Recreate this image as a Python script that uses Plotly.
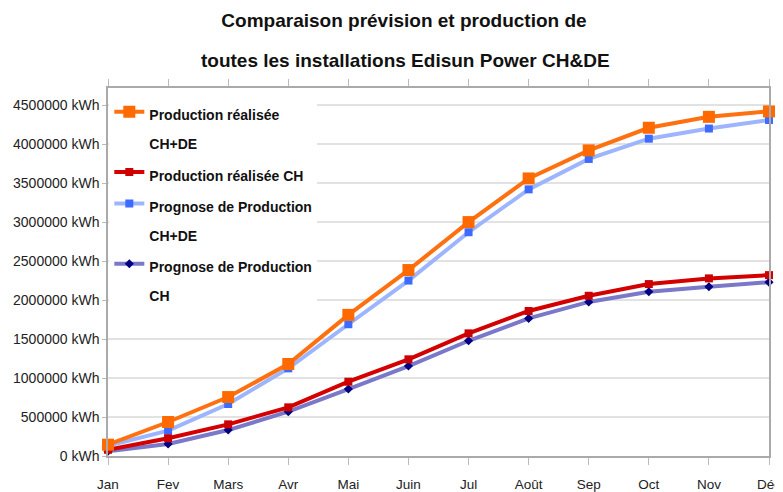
import plotly.graph_objects as go

months = ["Jan", "Fev", "Mars", "Avr", "Mai", "Juin", "Jul", "Août", "Sep", "Oct", "Nov", "Déc"]
real_chde = [145000, 436000, 756000, 1180000, 1810000, 2385000, 3000000, 3560000, 3920000, 4210000, 4350000, 4420000]
prog_chde = [130000, 325000, 667000, 1124000, 1690000, 2250000, 2870000, 3420000, 3810000, 4070000, 4200000, 4310000]
real_ch = [80000, 227000, 406000, 624000, 953000, 1240000, 1573000, 1860000, 2055000, 2205000, 2278000, 2320000]
prog_ch = [60000, 154000, 333000, 568000, 859000, 1154000, 1478000, 1765000, 1976000, 2106000, 2170000, 2230000]
y_ticks = [0, 500000, 1000000, 1500000, 2000000, 2500000, 3000000, 3500000, 4000000, 4500000]
y_tick_text = [f"{v} kWh" for v in y_ticks]

FONT = "Liberation Sans, Arial, sans-serif"


def lg(*lines):
    return "<br>".join(f'<span style="font-size:14px">{ln}</span>' for ln in lines)


fig = go.Figure()
fig.add_trace(go.Scatter(
    x=months, y=prog_chde, mode="lines+markers", name=lg("Prognose de Production", "CH+DE"),
    line=dict(color="#9db5ff", width=4), marker=dict(symbol="square", size=8, color="#3d6bff"),
    legendrank=3, cliponaxis=False))
fig.add_trace(go.Scatter(
    x=months, y=prog_ch, mode="lines+markers", name=lg("Prognose de Production", "CH"),
    line=dict(color="#7a78c8", width=4), marker=dict(symbol="diamond", size=7, color="#000080"),
    legendrank=4, cliponaxis=False))
fig.add_trace(go.Scatter(
    x=months, y=real_ch, mode="lines+markers", name=lg("Production réalisée CH"),
    line=dict(color="#d40000", width=4), marker=dict(symbol="square", size=8, color="#cc0000"),
    legendrank=2, cliponaxis=False))
fig.add_trace(go.Scatter(
    x=months, y=real_chde, mode="lines+markers", name=lg("Production réalisée", "CH+DE"),
    line=dict(color="#ff7010", width=4), marker=dict(symbol="square", size=12, color="#ff6a00"),
    legendrank=1, cliponaxis=False))

fig.update_layout(
    width=775, height=484,
    margin=dict(l=100, r=14, t=80, b=35.5),
    paper_bgcolor="white", plot_bgcolor="white",
    font=dict(family=FONT, color="#222"),
    title=dict(text="<b>Comparaison prévision et production de</b>", x=396 / 775, xanchor="center",
               y=1 - 12 / 484, yanchor="middle", font=dict(size=19, color="#111")),
    showlegend=True,
    legend=dict(x=0.002, y=0.992, xanchor="left", yanchor="top", bgcolor="white",
                font=dict(size=22, family=FONT, color="#111", weight="bold"), valign="top"),
    xaxis=dict(type="category", range=[0, 11], showgrid=False, showline=True, linecolor="#aaa",
               linewidth=1.5, mirror="ticks", ticks="outside", ticklen=7, tickcolor="#bbb",
               tickfont=dict(size=13.5, color="#222"), ticklabelstandoff=8, automargin=False),
    yaxis=dict(range=[0, 4720000], tickvals=y_ticks, ticktext=y_tick_text, showgrid=True,
               gridcolor="#e2e2e2", gridwidth=1.5, showline=True, mirror=True, linecolor="#aaa",
               linewidth=1.5, ticks="outside", ticklen=4, tickcolor="#bbb", zeroline=False,
               tickfont=dict(size=14, color="#222"), automargin=False),
)
fig.add_annotation(text="<b>toutes les installations Edisun Power CH&DE</b>", xref="paper", yref="paper",
                   x=(397 - 100) / 661, y=1 + 28 / 368.5, xanchor="center", yanchor="middle",
                   showarrow=False, font=dict(size=19, color="#111", family=FONT))

fig.write_html("out.html")
